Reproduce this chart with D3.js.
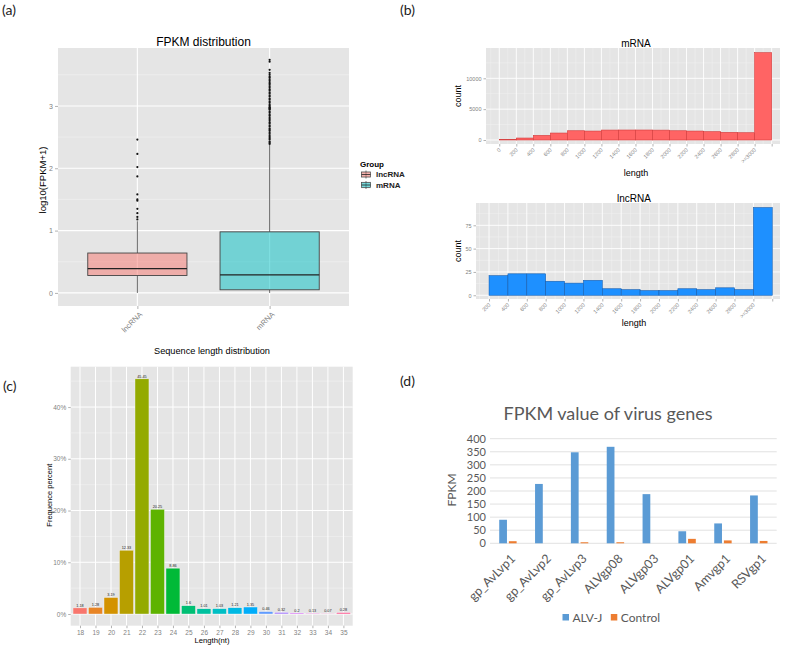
<!DOCTYPE html>
<html><head><meta charset="utf-8">
<script src="https://cdn.jsdelivr.net/npm/d3@7"></script>
<style>body{margin:0;background:#fff} svg{display:block}</style>
</head><body><svg id="c" width="787" height="646"></svg>
<script>
// ---------------- DATA ----------------
// (a) FPKM distribution boxplot
const boxGroups = ["lncRNA", "mRNA"];
const boxLower  = [0, 0];
const boxQ1     = [0.28, 0.05];
const boxMedian = [0.39, 0.29];
const boxQ3     = [0.64, 0.98];
const boxUpper  = [1.15, 2.38];
const boxTicks  = [0, 1, 2, 3];
const lncOutliers = [1.18, 1.22, 1.28, 1.35, 1.48, 1.5, 1.58, 1.87, 2.02, 2.23, 2.46];
const mrnaOutliers = [2.39, 2.41, 2.43, 2.46, 2.48, 2.5, 2.52, 2.55, 2.57, 2.6, 2.62, 2.64, 2.67, 2.69,
  2.72, 2.74, 2.77, 2.79, 2.81, 2.84, 2.86, 2.89, 2.91, 2.94, 2.95, 2.96, 2.97, 2.98, 3.0, 3.02, 3.05,
  3.07, 3.1, 3.12, 3.15, 3.17, 3.2, 3.22, 3.25, 3.27, 3.3, 3.32, 3.35, 3.37, 3.4, 3.42, 3.45, 3.47,
  3.5, 3.53, 3.58, 3.71, 3.74];

// (b) length histograms
const mrnaBinLabels = ["0","200","400","600","800","1000","1200","1400","1600","1800","2000","2200","2400","2600","2800",">=3000"];
const mrnaCounts    = [100, 320, 750, 1130, 1500, 1450, 1610, 1620, 1620, 1600, 1500, 1450, 1350, 1240, 1180, 14150];
const mrnaTicks     = [0, 5000, 10000];
const lncBinLabels  = ["200","400","600","800","1000","1200","1400","1600","1800","2000","2200","2400","2600","2800",">=3000"];
const lncCounts     = [21, 23, 23, 15, 13, 16, 7, 6, 5, 5, 7, 6, 8, 6, 94];
const lncTicks      = [0, 25, 50, 75];

// (c) sequence length distribution
const seqLengths = [18,19,20,21,22,23,24,25,26,27,28,29,30,31,32,33,34,35];
const seqPercent = [1.18, 1.28, 3.19, 12.33, 45.45, 20.25, 8.86, 1.6, 1.01, 1.03, 1.21, 1.35, 0.46, 0.32, 0.2, 0.13, 0.07, 0.28];
const seqLabels  = ["1.18","1.28","3.19","12.33","45.45","20.25","8.86","1.6","1.01","1.03","1.21","1.35","0.46","0.32","0.2","0.13","0.07","0.28"];
const seqTicks   = [0, 10, 20, 30, 40];

// (d) FPKM of virus genes
const virusGenes  = ["gp_AvLvp1","gp_AvLvp2","gp_AvLvp3","ALVgp08","ALVgp03","ALVgp01","Amvgp1","RSVgp1"];
const alvjFPKM    = [90, 227, 348, 369, 188, 46, 76, 183];
const controlFPKM = [8, 0, 4, 4, 0, 17, 11, 9];
const virusSeries = ["ALV-J", "Control"];
const virusTicks  = [0, 50, 100, 150, 200, 250, 300, 350, 400];

// ---------------- HELPERS ----------------
const svg = d3.select("#c");
svg.append("rect").attr("width",787).attr("height",646).attr("fill","#fff");
const GG = "Liberation Sans, Arial, sans-serif";
const OF = "Lato, Open Sans, sans-serif";
const PANEL_BG = "#E5E5E5", MINOR = "#F2F2F2", AXT = "#7F7F7F";
const fmtInt = d3.format("d");

function hclToHex(h, c, l) {
  const WX = 95.047, WY = 100, WZ = 108.883;
  const un = 4*WX/(WX+15*WY+3*WZ), vn = 9*WY/(WX+15*WY+3*WZ);
  const rad = h*Math.PI/180;
  const U = c*Math.cos(rad), V = c*Math.sin(rad);
  const Y = WY * (l > 7.999592 ? Math.pow((l+16)/116, 3) : l/903.3);
  const u = U/(13*l) + un, v = V/(13*l) + vn;
  const X = 9*Y*u/(4*v);
  const Z = 3*Y/v - X/3 - 5*Y;
  const x = X/100, y = Y/100, z = Z/100;
  const r = 3.240479*x - 1.537150*y - 0.498535*z;
  const g = -0.969256*x + 1.875992*y + 0.041556*z;
  const b = 0.055648*x - 0.204043*y + 1.057311*z;
  const gam = t => { t = t <= 0.0031308 ? 12.92*t : 1.055*Math.pow(t, 1/2.4) - 0.055; return Math.round(255*Math.max(0, Math.min(1, t))); };
  return d3.rgb(gam(r), gam(g), gam(b)).formatHex();
}

function styleAxis(g, size, color, font) {
  g.select(".domain").remove();
  g.selectAll(".tick line").attr("stroke", color).attr("stroke-width", 0.6);
  g.selectAll(".tick text").attr("fill", color).style("font-size", size + "px").style("font-family", font);
}

function label(txt, x, y, opts) {
  const t = svg.append("text").attr("x", x).attr("y", y).text(txt)
    .style("font-family", opts.font || GG).style("font-size", opts.size + "px")
    .attr("fill", opts.fill || "#000").attr("text-anchor", opts.anchor || "middle");
  if (opts.weight) t.style("font-weight", opts.weight);
  if (opts.rotate) t.attr("transform", `rotate(${opts.rotate},${x},${y})`);
  return t;
}

// Panel letters
label("(a)", 2, 15, {size: 14, font: OF, anchor: "start", fill: "#222"});
label("(b)", 400, 15, {size: 14, font: OF, anchor: "start", fill: "#222"});
label("(c)", 3, 391, {size: 14, font: OF, anchor: "start", fill: "#222"});
label("(d)", 400, 386, {size: 14, font: OF, anchor: "start", fill: "#222"});

// ---------------- (a) BOXPLOT ----------------
{
  const L = 58, R = 349, T = 48, B = 306;
  const x = d3.scalePoint().domain(boxGroups).range([L, R]).padding(0.6);
  const y = d3.scaleLinear().domain([-0.21, 3.93]).range([B, T]);
  const g = svg.append("g");
  g.append("rect").attr("x", L).attr("y", T).attr("width", R-L).attr("height", B-T).attr("fill", PANEL_BG);
  const minor = boxTicks.map(v => v + 0.5);
  g.selectAll(".mn").data(minor).join("line").attr("x1", L).attr("x2", R)
    .attr("y1", d => y(d)).attr("y2", d => y(d)).attr("stroke", MINOR).attr("stroke-width", 0.6);
  g.selectAll(".mj").data(boxTicks).join("line").attr("x1", L).attr("x2", R)
    .attr("y1", d => y(d)).attr("y2", d => y(d)).attr("stroke", "#fff").attr("stroke-width", 1.1);
  g.selectAll(".vx").data(boxGroups).join("line").attr("y1", T).attr("y2", B)
    .attr("x1", d => x(d)).attr("x2", d => x(d)).attr("stroke", "#fff").attr("stroke-width", 1.1);

  const fills = ["#F8766D", "#00BFC4"];
  const bw = x.step() * 0.75;
  boxGroups.forEach((grp, i) => {
    const cx = x(grp);
    g.append("line").attr("x1", cx).attr("x2", cx).attr("y1", y(boxQ3[i])).attr("y2", y(boxUpper[i]))
      .attr("stroke", "#555").attr("stroke-width", 0.9);
    g.append("line").attr("x1", cx).attr("x2", cx).attr("y1", y(boxQ1[i])).attr("y2", y(boxLower[i]))
      .attr("stroke", "#555").attr("stroke-width", 0.9);
    g.append("rect").attr("x", cx - bw/2).attr("width", bw).attr("y", y(boxQ3[i]))
      .attr("height", y(boxQ1[i]) - y(boxQ3[i])).attr("fill", fills[i]).attr("fill-opacity", 0.5)
      .attr("stroke", "#444").attr("stroke-width", 0.9);
    g.append("line").attr("x1", cx - bw/2).attr("x2", cx + bw/2).attr("y1", y(boxMedian[i])).attr("y2", y(boxMedian[i]))
      .attr("stroke", "#222").attr("stroke-width", 1.4);
    const outs = i === 0 ? lncOutliers : mrnaOutliers;
    g.selectAll(null).data(outs).join("circle").attr("cx", cx).attr("cy", d => y(d)).attr("r", 1.1).attr("fill", "#111");
  });

  const ya = g.append("g").attr("transform", `translate(${L},0)`)
    .call(d3.axisLeft(y).tickValues(boxTicks).tickFormat(fmtInt).tickSize(3).tickPadding(2));
  styleAxis(ya, 7, AXT, GG);
  const xa = g.append("g").attr("transform", `translate(0,${B})`)
    .call(d3.axisBottom(x).tickSize(3));
  styleAxis(xa, 7.5, AXT, GG);
  xa.selectAll(".tick text").attr("y", 0).attr("dy", "0.35em")
    .attr("transform", "translate(3,7) rotate(-45)").style("text-anchor", "end");

  label("FPKM distribution", (L+R)/2, 45.5, {size: 12});
  label("log10(FPKM+1)", 46, 180, {size: 9.5, rotate: -90});

  // legend
  label("Group", 360, 166.5, {size: 8, anchor: "start", weight: "bold"});
  boxGroups.forEach((grp, i) => {
    const ky = 171 + i * 10.5;
    svg.append("rect").attr("x", 361).attr("y", ky).attr("width", 10).attr("height", 7).attr("fill", "#F2F2F2");
    svg.append("line").attr("x1", 366).attr("x2", 366).attr("y1", ky - 0.5).attr("y2", ky + 7.5).attr("stroke", "#444").attr("stroke-width", 0.7);
    svg.append("rect").attr("x", 361.5).attr("y", ky + 1).attr("width", 9).attr("height", 5)
      .attr("fill", fills[i]).attr("fill-opacity", 0.5).attr("stroke", "#444").attr("stroke-width", 0.7);
    svg.append("line").attr("x1", 361.5).attr("x2", 370.5).attr("y1", ky + 3.5).attr("y2", ky + 3.5).attr("stroke", "#222").attr("stroke-width", 0.8);
    label(grp, 376, ky + 6, {size: 8, anchor: "start", weight: "bold", fill: "#222"});
  });
}

// ---------------- (b) HISTOGRAMS ----------------
function histogram(opt) {
  const {L, R, T, B, domX, domY, counts, labels, ticks, fill, stroke, title, titleX, lenY, countX} = opt;
  const n = counts.length;
  const x = d3.scaleLinear().domain(domX).range([L, R]);
  const y = d3.scaleLinear().domain(domY).range([B, T]);
  const g = svg.append("g");
  g.append("rect").attr("x", L).attr("y", T).attr("width", R-L).attr("height", B-T).attr("fill", PANEL_BG);
  const edges = d3.range(n + 1);
  const minorX = [-0.5].concat(edges.map(e => e + 0.5));
  const minorY = ticks.map(v => v + (ticks[1] - ticks[0]) / 2).concat([ticks[0] - (ticks[1] - ticks[0]) / 2]);
  g.selectAll(null).data(minorX.filter(v => x(v) > L && x(v) < R)).join("line")
    .attr("x1", d => x(d)).attr("x2", d => x(d)).attr("y1", T).attr("y2", B).attr("stroke", MINOR).attr("stroke-width", 0.5);
  g.selectAll(null).data(minorY.filter(v => y(v) > T && y(v) < B)).join("line")
    .attr("x1", L).attr("x2", R).attr("y1", d => y(d)).attr("y2", d => y(d)).attr("stroke", MINOR).attr("stroke-width", 0.5);
  g.selectAll(null).data(edges).join("line")
    .attr("x1", d => x(d)).attr("x2", d => x(d)).attr("y1", T).attr("y2", B).attr("stroke", "#fff").attr("stroke-width", 0.9);
  g.selectAll(null).data(ticks).join("line")
    .attr("x1", L).attr("x2", R).attr("y1", d => y(d)).attr("y2", d => y(d)).attr("stroke", "#fff").attr("stroke-width", 0.9);
  g.selectAll(null).data(counts).join("rect")
    .attr("x", (d, i) => x(i)).attr("width", (d, i) => x(i + 1) - x(i))
    .attr("y", d => y(d)).attr("height", d => y(0) - y(d))
    .attr("fill", fill).attr("stroke", stroke).attr("stroke-width", 0.6);

  const ya = g.append("g").attr("transform", `translate(${L},0)`)
    .call(d3.axisLeft(y).tickValues(ticks).tickFormat(fmtInt).tickSize(2.5).tickPadding(2));
  styleAxis(ya, 5.5, AXT, GG);
  const xa = g.append("g").attr("transform", `translate(0,${B})`)
    .call(d3.axisBottom(x).tickValues(edges).tickFormat(i => labels[i] || "").tickSize(2.5));
  styleAxis(xa, 5.5, AXT, GG);
  xa.selectAll(".tick text").attr("y", 0).attr("dy", "0.35em")
    .attr("transform", "translate(0,5) rotate(-45)").style("text-anchor", "end");

  label(title, titleX, T - 1.5, {size: 10});
  label("count", countX, (T + B) / 2, {size: 9, rotate: -90});
  label("length", titleX, lenY, {size: 9});
}
histogram({L: 486, R: 780, T: 48, B: 144, domX: [-0.78, 16.49], domY: [-648, 14911],
  counts: mrnaCounts, labels: mrnaBinLabels, ticks: mrnaTicks, fill: "#FF6464", stroke: "#D23A3A",
  title: "mRNA", titleX: 636, lenY: 176, countX: 461});
histogram({L: 476, R: 780, T: 203, B: 299, domX: [-0.69, 15.41], domY: [-4.0, 98.9],
  counts: lncCounts, labels: lncBinLabels, ticks: lncTicks, fill: "#1E90FF", stroke: "#1A5FAE",
  title: "lncRNA", titleX: 634, lenY: 325.5, countX: 461});

// ---------------- (c) SEQUENCE LENGTH ----------------
{
  const L = 70.7, R = 352.7, T = 366.7, B = 625.7;
  const x = d3.scalePoint().domain(seqLengths).range([L, R]).padding(0.6);
  const y = d3.scaleLinear().domain([-2.26, 47.8]).range([B, T]);
  const colors = seqLengths.map((d, i) => hclToHex(15 + i * 360 / seqLengths.length, 100, 65));
  const g = svg.append("g");
  g.append("rect").attr("x", L).attr("y", T).attr("width", R-L).attr("height", B-T).attr("fill", PANEL_BG);
  g.selectAll(null).data(seqTicks.map(v => v + 5)).join("line")
    .attr("x1", L).attr("x2", R).attr("y1", d => y(d)).attr("y2", d => y(d)).attr("stroke", MINOR).attr("stroke-width", 0.6);
  g.selectAll(null).data(seqTicks).join("line")
    .attr("x1", L).attr("x2", R).attr("y1", d => y(d)).attr("y2", d => y(d)).attr("stroke", "#fff").attr("stroke-width", 1);
  g.selectAll(null).data(seqLengths).join("line")
    .attr("x1", d => x(d)).attr("x2", d => x(d)).attr("y1", T).attr("y2", B).attr("stroke", "#fff").attr("stroke-width", 1);
  const bw = x.step() * 0.9;
  g.selectAll(null).data(seqPercent).join("rect")
    .attr("x", (d, i) => x(seqLengths[i]) - bw/2).attr("width", bw)
    .attr("y", d => y(d)).attr("height", d => y(0) - y(d))
    .attr("fill", (d, i) => colors[i]).attr("stroke", "#f4f4f4").attr("stroke-width", 0.4);
  g.selectAll(null).data(seqLabels).join("text")
    .attr("x", (d, i) => x(seqLengths[i])).attr("y", (d, i) => y(seqPercent[i]) - 1.3)
    .attr("text-anchor", "middle").style("font-family", GG).style("font-size", "3.8px").attr("fill", "#222")
    .text(d => d);

  const ya = g.append("g").attr("transform", `translate(${L},0)`)
    .call(d3.axisLeft(y).tickValues(seqTicks).tickFormat(d => d + "%").tickSize(2.5).tickPadding(2));
  styleAxis(ya, 6.5, AXT, GG);
  const xa = g.append("g").attr("transform", `translate(0,${B})`)
    .call(d3.axisBottom(x).tickSize(2.5).tickPadding(2));
  styleAxis(xa, 6.5, AXT, GG);

  label("Sequence length distribution", 212, 354, {size: 9.2});
  label("Frequence percent", 52, (T + B) / 2 - 1, {size: 7.5, rotate: -90});
  label("Length(nt)", 212, 643, {size: 7.7});
}

// ---------------- (d) VIRUS GENES ----------------
{
  const L = 490, R = 776.7, T = 438.7, B = 543.3;
  const x = d3.scaleBand().domain(virusGenes).range([L, R]);
  const gw = 17.4;
  const xi = d3.scaleBand().domain(virusSeries).range([0, gw]).paddingInner(0.2);
  const y = d3.scaleLinear().domain([0, 400]).range([B, T]);
  const colors = ["#5B9BD5", "#ED7D31"];
  const g = svg.append("g");
  g.selectAll(null).data(virusTicks).join("line")
    .attr("x1", L).attr("x2", R).attr("y1", d => y(d)).attr("y2", d => y(d))
    .attr("stroke", "#D9D9D9").attr("stroke-width", 0.8);
  [alvjFPKM, controlFPKM].forEach((vals, s) => {
    g.selectAll(null).data(vals).join("rect")
      .attr("x", (d, i) => x(virusGenes[i]) + (x.bandwidth() - gw) / 2 + xi(virusSeries[s]))
      .attr("width", xi.bandwidth())
      .attr("y", d => y(d)).attr("height", d => y(0) - y(d))
      .attr("fill", colors[s]);
  });
  const ya = g.append("g").attr("transform", `translate(${L},0)`)
    .call(d3.axisLeft(y).tickValues(virusTicks).tickFormat(fmtInt).tickSize(0).tickPadding(4));
  styleAxis(ya, 11, "#595959", OF);
  const xa = g.append("g").attr("transform", `translate(0,${B})`)
    .call(d3.axisBottom(x).tickSize(0));
  styleAxis(xa, 12.5, "#595959", OF);
  xa.selectAll(".tick text").attr("y", 0).attr("dy", "0.35em")
    .attr("transform", "translate(5,13) rotate(-45)").style("text-anchor", "end");

  label("FPKM value of virus genes", 608, 420, {size: 18, font: OF, fill: "#595959"});
  label("FPKM", 456, 490, {size: 12, font: OF, fill: "#595959", rotate: -90});

  const lx = [562.5, 610.8];
  virusSeries.forEach((s, i) => {
    svg.append("rect").attr("x", lx[i]).attr("y", 614).attr("width", 6.5).attr("height", 6.5).attr("fill", colors[i]);
    label(s, lx[i] + 10, 621.5, {size: 12, font: OF, anchor: "start", fill: "#595959"});
  });
}
</script></body></html>
